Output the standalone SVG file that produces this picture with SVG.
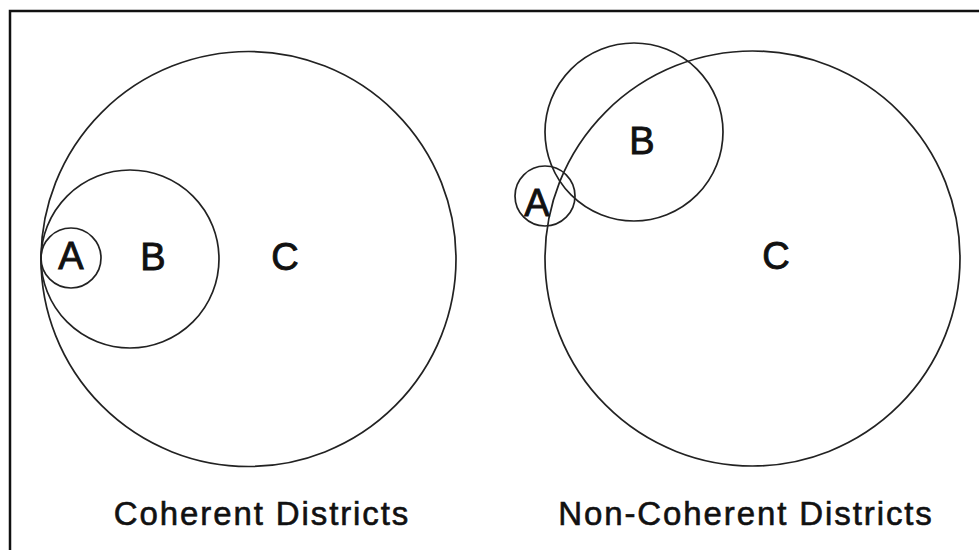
<svg xmlns="http://www.w3.org/2000/svg" width="979" height="550" viewBox="0 0 979 550">
<style>
.c{fill:none;stroke:#222;stroke-width:1.7}
.l{font-family:"Liberation Sans",Arial,sans-serif;font-size:38px;fill:#111;stroke:#111;stroke-width:0.9;text-anchor:middle}
.t{font-family:"Liberation Sans",Arial,sans-serif;font-size:33px;fill:#111;stroke:#111;stroke-width:0.6;text-anchor:middle;letter-spacing:1.9px}
</style>
<rect x="0" y="0" width="979" height="550" fill="#fff"/>
<rect x="10" y="11" width="1000" height="600" fill="none" stroke="#111" stroke-width="2.5"/>
<g id="coherent">
<g id="cC"><circle class="c" cx="248.5" cy="259" r="207.5"/><text class="l" x="285" y="270">C</text></g>
<g id="cB"><circle class="c" cx="130" cy="259" r="89"/><text class="l" x="153" y="270">B</text></g>
<g id="cA"><circle class="c" cx="71" cy="258" r="30"/><text class="l" x="71" y="269">A</text></g>
<text class="t" x="262" y="525">Coherent Districts</text>
</g>
<g id="noncoherent">
<g id="nC"><circle class="c" cx="752.5" cy="258.5" r="207.5"/><text class="l" x="776" y="269">C</text></g>
<g id="nB"><circle class="c" cx="634" cy="132" r="89"/><text class="l" x="642" y="154">B</text></g>
<g id="nA"><circle class="c" cx="545" cy="196" r="30"/><text class="l" x="537" y="216">A</text></g>
<text class="t" x="746" y="525">Non-Coherent Districts</text>
</g>
<g id="connectors"/>
</svg>
